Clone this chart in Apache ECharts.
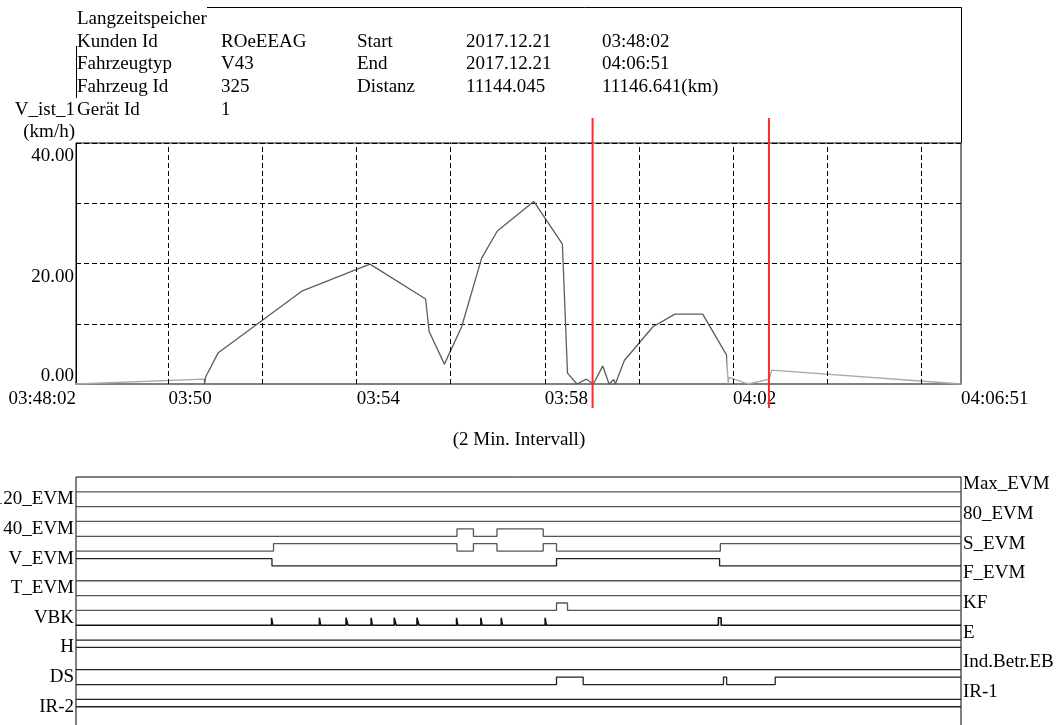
<!DOCTYPE html>
<html>
<head>
<meta charset="utf-8">
<script src="https://cdn.jsdelivr.net/npm/echarts@6/dist/echarts.min.js"></script>
<style>
  html, body { margin: 0; padding: 0; background: #fff; }
  #chart { width: 1059px; height: 725px; }
</style>
</head>
<body>
<div id="chart"></div>
<script>
// ---- recording window -------------------------------------------------
const recStart = '03:48:02';
const recEnd = '04:06:51';

// ---- header block -----------------------------------------------------
const storeTitle = 'Langzeitspeicher';
const infoKeys = ['Kunden Id', 'Fahrzeugtyp', 'Fahrzeug Id', 'Gerät Id'];
const infoValues = ['ROeEEAG', 'V43', '325', '1'];
const rangeKeys = ['Start', 'End', 'Distanz'];
const rangeFirst = ['2017.12.21', '2017.12.21', '11144.045'];
const rangeSecond = ['03:48:02', '04:06:51', '11146.641(km)'];
const speedName = 'V_ist_1';
const speedUnit = '(km/h)';
const intervalNote = '(2 Min. Intervall)';

// ---- speed trace V_ist_1 (seconds since recStart, km/h) ---------------
const speedTimes = [0, 163.5, 164, 165.5, 181.5, 288, 375, 446, 450.5, 470,
  492, 517.5, 537.5, 584, 620.5, 627, 639, 651, 660, 672, 680, 686, 688,
  699.5, 736, 764, 799.5, 830, 832, 833, 857.5, 884.5, 887.5, 1129];
const speedValues = [0, 0.8, 0, 1.2, 5.2, 15.4, 19.9, 14.1, 8.7, 3.3,
  9.5, 20.9, 25.4, 30.3, 23.2, 1.8, 0, 0.8, 0, 3.0, 0, 0.75, 0,
  3.9, 9.5, 11.6, 11.6, 4.8, 0, 1.1, 0, 0.8, 2.3, 0];

// axis ticks
const speedLabelTicks = [0, 20, 40];
const timeLabels = ['03:48:02', '03:50', '03:54', '03:58', '04:02', '04:06:51'];
const timeGrid = ['03:50', '03:52', '03:54', '03:56', '03:58', '04:00', '04:02', '04:04', '04:06'];

// cursor positions (seconds since recStart)
const cursorTimes = [659, 884];

// ---- binary channels ---------------------------------------------------
const channelNames = ['Max_EVM', '120_EVM', '80_EVM', '40_EVM', 'S_EVM', 'V_EVM',
  'F_EVM', 'T_EVM', 'KF', 'VBK', 'E', 'H', 'Ind.Betr.EB', 'DS', 'IR-1', 'IR-2'];

// state changes as [seconds since recStart, state]
const chMaxEvm = [[0, 0]];
const ch120Evm = [[0, 0]];
const ch80Evm = [[0, 0]];
const ch40Evm = [[0, 0], [486, 1], [507, 0], [537, 1], [596, 0]];
const chSEvm = [[0, 0], [252, 1], [486, 0], [507, 1], [537, 0], [596, 1], [613, 0], [822, 1]];
const chVEvm = [[0, 1], [250, 0], [613, 1], [821, 0]];
const chFEvm = [[0, 0]];
const chTEvm = [[0, 0]];
const chKF = [[0, 0], [613, 1], [627, 0]];
// VBK pulses as [on, off]
const vbkPulses = [[249.5, 251], [310.5, 312], [344.5, 347], [376.5, 378], [406, 408.5],
  [435, 437.5], [485.5, 487], [516.5, 518], [542.5, 544], [598.5, 600], [819.5, 823]];
const chE = [[0, 0]];
const chH = [[0, 1]];
const chIndBetr = [[0, 0]];
const chDS = [[0, 0], [613, 1], [647, 0], [826, 1], [830, 0], [892, 1]];
const chIR1 = [[0, 0]];
const chIR2 = [[0, 1]];

// ------------------------------------------------------------------------
function clockSec(c) {
  const p = c.split(':').map(Number);
  return p[0] * 3600 + p[1] * 60 + (p[2] || 0);
}
const t0 = clockSec(recStart);
const tMax = clockSec(recEnd) - t0;
const rel = c => clockSec(c) - t0;
const pad = n => String(n).padStart(2, '0');
function clockText(t) {
  const s = Math.round(t0 + t);
  const h = Math.floor(s / 3600), m = Math.floor((s % 3600) / 60), sec = s % 60;
  if (Math.abs(t) < 0.5 || Math.abs(t - tMax) < 0.5) return pad(h) + ':' + pad(m) + ':' + pad(sec);
  return pad(h) + ':' + pad(m);
}

const vbkChanges = [[0, 0]];
vbkPulses.forEach(p => { vbkChanges.push([p[0], 1], [p[1], 0]); });

const channelChanges = [chMaxEvm, ch120Evm, ch80Evm, ch40Evm, chSEvm, chVEvm, chFEvm,
  chTEvm, chKF, vbkChanges, chE, chH, chIndBetr, chDS, chIR1, chIR2];

const FONT = '"Liberation Serif", "Times New Roman", serif';
const FS = 19;

const chart = echarts.init(document.getElementById('chart'), null, { renderer: 'canvas' });

// left / right label columns of the channel panel
const leftNames = [], rightNames = [];
channelNames.forEach((n, i) => {
  leftNames.push(i % 2 === 1 ? n : '');
  rightNames.push(i % 2 === 0 ? n : '');
});
leftNames.push(''); rightNames.push('');

function channelColor(i) {
  if (i === 9) return '#111';
  return i >= 10 || i === 5 ? '#222' : '#555';
}

const channelSeries = channelChanges.map((changes, i) => {
  const data = changes.map(c => [c[0], i + 1 - 0.5 * c[1]]);
  const last = changes[changes.length - 1];
  data.push([tMax, i + 1 - 0.5 * last[1]]);
  return {
    type: 'line', name: channelNames[i], xAxisIndex: 2, yAxisIndex: 2,
    step: 'end', symbol: 'none', silent: true, animation: false,
    data: data,
    lineStyle: { width: i === 9 ? 1.6 : 1.3, color: channelColor(i) }
  };
});

const cursorSeries = cursorTimes.map(t => ({
  type: 'line', xAxisIndex: 1, yAxisIndex: 1, symbol: 'none', silent: true,
  animation: false, data: [[t, 0], [t, 1]],
  lineStyle: { color: '#ff2a2a', width: 2 }
}));

const txt = (x, y, text, align) => ({
  type: 'text', x: x, y: y, silent: true,
  style: { text: text, font: FS + 'px ' + FONT, fill: '#000',
    align: align || 'left', verticalAlign: 'middle' }
});

const rowY = [42.5, 64.5, 87.5, 110.5];
const graphics = [
  { type: 'line', silent: true, shape: { x1: 207, y1: 7.5, x2: 961.5, y2: 7.5 }, style: { stroke: '#000', lineWidth: 1 } },
  { type: 'line', silent: true, shape: { x1: 961.5, y1: 7.5, x2: 961.5, y2: 143 }, style: { stroke: '#000', lineWidth: 1 } },
  { type: 'line', silent: true, shape: { x1: 76.5, y1: 46, x2: 76.5, y2: 98 }, style: { stroke: '#000', lineWidth: 1 } },
  txt(77, 19.5, storeTitle),
  txt(75, 110.5, speedName, 'right'),
  txt(75, 132.5, speedUnit, 'right'),
  txt(519, 440.5, intervalNote, 'center')
];
infoKeys.forEach((k, i) => {
  graphics.push(txt(77, rowY[i], k));
  graphics.push(txt(221, rowY[i], infoValues[i]));
});
rangeKeys.forEach((k, i) => {
  graphics.push(txt(357, rowY[i], k));
  graphics.push(txt(466, rowY[i], rangeFirst[i]));
  graphics.push(txt(602, rowY[i], rangeSecond[i]));
});

const option = {
  animation: false,
  backgroundColor: '#fff',
  textStyle: { fontFamily: FONT },
  grid: [
    { left: 76, right: 98, top: 143, height: 241, show: true, borderColor: '#000', borderWidth: 1,
      backgroundColor: 'transparent', outerBoundsMode: 'none', containLabel: false },
    { left: 76, right: 98, top: 118, height: 290, outerBoundsMode: 'none', containLabel: false },
    { left: 76, right: 98, top: 477, height: 252, show: true, borderColor: '#000', borderWidth: 1,
      backgroundColor: 'transparent', outerBoundsMode: 'none', containLabel: false }
  ],
  visualMap: {
    show: false, type: 'piecewise', seriesIndex: 0, dimension: 0,
    pieces: [
      { lt: 163.6, color: '#a8a8a8' },
      { gte: 163.6, lte: 830, color: '#5c5c5c' },
      { gt: 830, color: '#a8a8a8' }
    ]
  },
  xAxis: [
    {
      gridIndex: 0, type: 'value', min: 0, max: tMax,
      axisLine: { show: true, onZero: false, lineStyle: { color: '#808080', width: 2 } },
      axisTick: { show: false },
      splitLine: { show: false },
      axisLabel: {
        customValues: timeLabels.map(rel),
        formatter: v => clockText(v),
        align: 'left', alignMinLabel: 'right', alignMaxLabel: 'left',
        margin: 6, color: '#000', fontSize: FS, fontFamily: FONT,
        showMinLabel: true, showMaxLabel: true
      }
    },
    { gridIndex: 1, type: 'value', min: 0, max: tMax, show: false },
    { gridIndex: 2, type: 'value', min: 0, max: tMax, show: false }
  ],
  yAxis: [
    {
      gridIndex: 0, type: 'value', min: 0, max: 40, interval: 10,
      axisLine: { show: true, lineStyle: { color: '#000', width: 1 } },
      axisTick: { show: false },
      splitLine: { show: true, lineStyle: { color: '#000', width: 1, type: [5, 3] } },
      axisLabel: {
        margin: 2, color: '#000', fontSize: FS, fontFamily: FONT,
        formatter: v => {
          if (speedLabelTicks.indexOf(v) < 0) return '';
          return v === 0 ? '{lo|' + v.toFixed(2) + '}' : '{hi|' + v.toFixed(2) + '}';
        },
        rich: {
          hi: { fontSize: FS, fontFamily: FONT, color: '#000', padding: [27, 0, 0, 0] },
          lo: { fontSize: FS, fontFamily: FONT, color: '#000', padding: [0, 0, 16, 0] }
        }
      }
    },
    { gridIndex: 1, type: 'value', min: 0, max: 1, show: false },
    { gridIndex: 2, type: 'value', min: 0, max: 17, inverse: true, show: false, position: 'right' },
    {
      gridIndex: 2, type: 'category', data: leftNames, inverse: true, position: 'left',
      axisLine: { show: false }, axisTick: { show: false }, splitLine: { show: false },
      axisLabel: { interval: 0, margin: 2, color: '#000', fontSize: FS, fontFamily: FONT }
    },
    {
      gridIndex: 2, type: 'category', data: rightNames, inverse: true, position: 'right',
      axisLine: { show: false }, axisTick: { show: false }, splitLine: { show: false },
      axisLabel: { interval: 0, margin: 2, color: '#000', fontSize: FS, fontFamily: FONT }
    }
  ],
  series: [
    {
      type: 'line', name: speedName, xAxisIndex: 0, yAxisIndex: 0,
      symbol: 'none', silent: true, animation: false,
      data: speedTimes.map((t, i) => [t, speedValues[i]]),
      lineStyle: { width: 1.3 },
      markLine: {
        silent: true, symbol: 'none', animation: false,
        label: { show: false },
        lineStyle: { color: '#000', width: 1, type: [5, 3] },
        data: timeGrid.map(c => ({ xAxis: rel(c) }))
      }
    }
  ].concat(cursorSeries, channelSeries),
  graphic: graphics
};

chart.setOption(option);
</script>
</body>
</html>
